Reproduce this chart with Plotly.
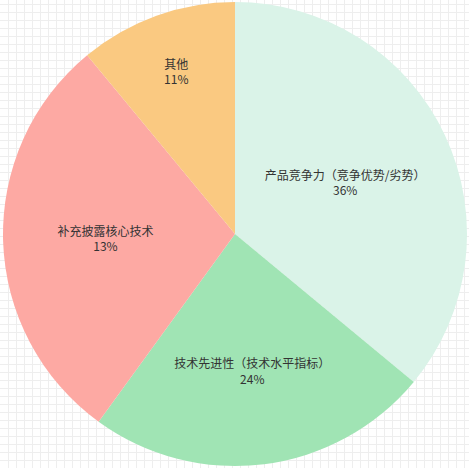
import plotly.graph_objects as go

labels = ["产品竞争力（竞争优势/劣势）", "技术先进性（技术水平指标）", "补充披露核心技术", "其他"]
values = [36, 24, 29, 11]
pct_text = ["36%", "24%", "13%", "11%"]
colors = ["#DAF3E8", "#A0E4B4", "#FDA9A3", "#FAC981"]

W, H = 469, 468

fig = go.Figure()

# empty cartesian trace so the grid-paper background gets drawn
fig.add_trace(go.Scatter(x=[], y=[], mode="markers", hoverinfo="skip", showlegend=False))

fig.add_trace(go.Pie(
    labels=labels,
    values=values,
    customdata=pct_text,
    texttemplate="%{label}<br>%{customdata}",
    textposition="inside",
    insidetextorientation="horizontal",
    textfont=dict(family="Noto Sans CJK SC", size=12, color="#333333"),
    marker=dict(colors=colors, line=dict(width=0)),
    sort=False,
    direction="clockwise",
    rotation=0,
    hoverinfo="none",
    showlegend=False,
    domain=dict(x=[3 / W, 467 / W], y=[2 / H, 466 / H]),
))

# background grid paper
fig.update_xaxes(range=[0, W], tick0=0, dtick=8, showgrid=True, gridcolor="#eeeeee",
                 gridwidth=1, showticklabels=False, zeroline=False, showline=False, fixedrange=True)
fig.update_yaxes(range=[H, 0], tick0=4, dtick=8, showgrid=True, gridcolor="#eeeeee",
                 gridwidth=1, showticklabels=False, zeroline=False, showline=False, fixedrange=True)

fig.update_layout(
    width=W,
    height=H,
    margin=dict(l=0, r=0, t=0, b=0),
    paper_bgcolor="white",
    plot_bgcolor="white",
    uniformtext=dict(minsize=12, mode="show"),
)

fig.write_html("out.html", config={"displayModeBar": False},
               post_script="document.body.style.margin='0';")
